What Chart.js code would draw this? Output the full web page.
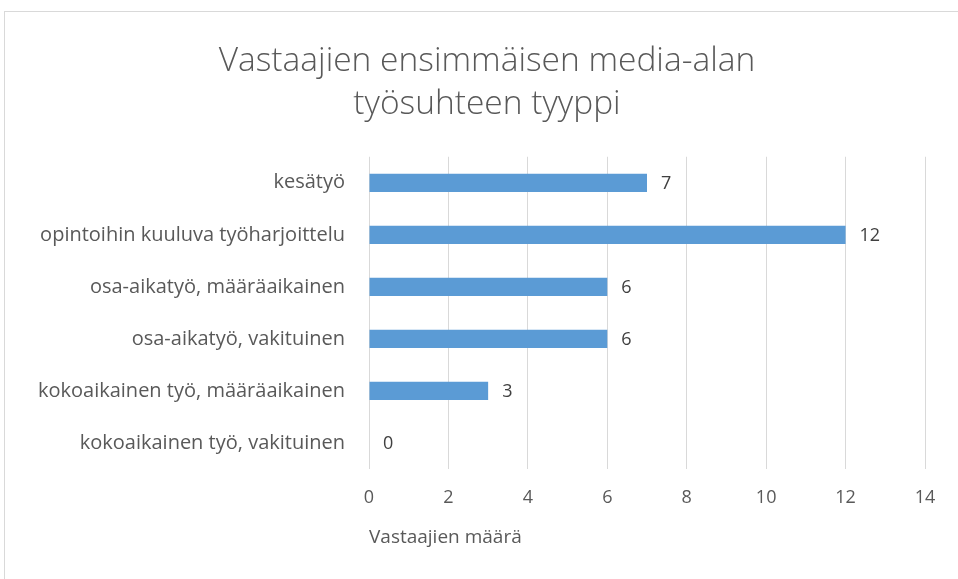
<!DOCTYPE html>
<html>
<head>
<meta charset="utf-8">
<script src="https://cdn.jsdelivr.net/npm/chart.js@4/dist/chart.umd.min.js"></script>
<style>
  html, body { margin: 0; padding: 0; background: #fff; }
  #wrap { position: relative; width: 958px; height: 579px; }
</style>
</head>
<body>
<div id="wrap"><canvas id="chart_tyosuhde"></canvas></div>
<script>
// categories, top to bottom
var categories = [
    'kesätyö',
    'opintoihin kuuluva työharjoittelu',
    'osa-aikatyö, määräaikainen',
    'osa-aikatyö, vakituinen',
    'kokoaikainen työ, määräaikainen',
    'kokoaikainen työ, vakituinen'
];
var respondents = [7, 12, 6, 6, 3, 0];
var titleLines = ['Vastaajien ensimmäisen media-alan', 'työsuhteen tyyppi'];
var xTitle = 'Vastaajien määrä';
var xMin = 0, xMax = 14, xStep = 2;

var FONT = '"Open Sans", "Noto Sans", sans-serif';

var chart_tyosuhde = new Chart(document.getElementById('chart_tyosuhde'), {
    type: 'bar',
    data: {
        labels: categories,
        datasets: [
            {
                label: xTitle,
                data: respondents,
                backgroundColor: '#5b9bd5',
                borderWidth: 0,
                barPercentage: 0.35,
                categoryPercentage: 1
            }
        ]
    },
    options: {
        indexAxis: 'y',
        animation: false,
        responsive: true,
        maintainAspectRatio: false,
        layout: {
            padding: { left: 0, right: 33, top: 0, bottom: 0 }
        },
        plugins: {
            legend: { display: false },
            tooltip: { enabled: false },
            title: {
                display: true,
                text: titleLines,
                color: '#595959',
                font: { family: FONT, size: 33.5, weight: '300', lineHeight: 1.28 },
                padding: { top: 40, bottom: 31 }
            }
        },
        scales: {
            x: {
                type: 'linear',
                min: xMin,
                max: xMax,
                ticks: {
                    stepSize: xStep,
                    color: '#595959',
                    padding: 18,
                    font: { family: FONT, size: 18 }
                },
                grid: { color: '#d9d9d9', lineWidth: 1, drawTicks: false },
                border: { display: false },
                title: {
                    display: true,
                    text: xTitle,
                    align: 'start',
                    color: '#595959',
                    font: { family: FONT, size: 19 },
                    padding: { top: 0, bottom: 30 }
                },
                afterFit: function (scale) { scale.height = 110; }
            },
            y: {
                ticks: {
                    color: '#595959',
                    padding: 24,
                    font: { family: FONT, size: 20 }
                },
                grid: { display: false, drawTicks: false },
                border: { display: false },
                afterFit: function (scale) { scale.width = 369; }
            }
        }
    },
    plugins: [{
        id: 'customPlugin',
        afterLayout: (chart) => {
            // centre the title a bit right of the canvas middle, as in the original
            if (chart.titleBlock) {
                chart.titleBlock.left = 49;
                chart.titleBlock.right = 925;
            }
        },
        beforeDraw: (chart, args, options) => {
            const ctx = chart.canvas.getContext('2d');
            ctx.save();
            ctx.globalCompositeOperation = 'destination-over';
            ctx.fillStyle = 'white';
            ctx.fillRect(0, 0, chart.canvas.width, chart.canvas.height);
            ctx.restore();
            // outer frame
            ctx.save();
            ctx.strokeStyle = '#d9d9d9';
            ctx.lineWidth = 1;
            ctx.strokeRect(4.5, 11.5, 1000, 1000);
            ctx.restore();
        },
        afterDatasetsDraw: (chart) => {
            // value labels next to the bars
            const ctx = chart.ctx;
            const meta = chart.getDatasetMeta(0);
            ctx.save();
            ctx.fillStyle = '#404040';
            ctx.font = '18px ' + FONT;
            ctx.textAlign = 'left';
            ctx.textBaseline = 'middle';
            meta.data.forEach((bar, i) => {
                ctx.fillText(String(chart.data.datasets[0].data[i]), bar.x + 14, bar.y + 1);
            });
            ctx.restore();
        }
    }]
});
</script>
</body>
</html>
